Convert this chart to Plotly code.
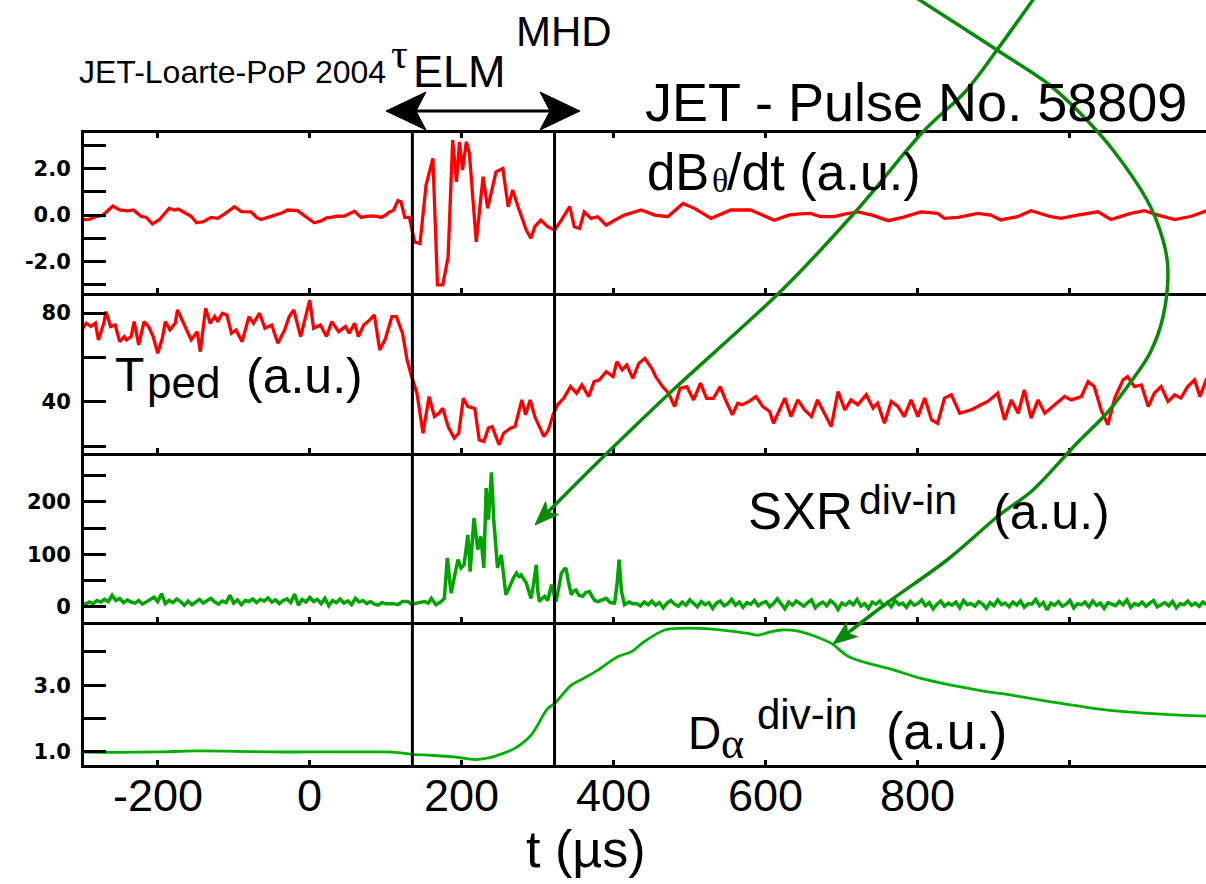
import numpy as np
import plotly.graph_objects as go
from plotly.subplots import make_subplots

# ---------------- data ----------------
db_t = [-300,-290,-280,-272,-259,-250,-240,-232,-222,-215,-207,-198,-185,-178,-173,-165,-156,-149,-140,-130,
        -121,-112,-99,-90,-80,-77,-70,-64,-55,-45,-36,-29,-16,-8,0,6,15,22,28,36,46,52,59,64,68,75,81,88,94,100,
        105,110,116,120,125,131,138,145,153,162,168,175,182,188,193,197,201,206,210,219,228,234,245,254,261,267,
        274,285,291,296,304,313,322,331,342,348,355,361,370,379,390,401,414,436,454,471,491,506,528,554,580,611,
        616,630,645,659,672,690,705,721,740,761,780,804,826,835,853,879,896,909,931,949,975,988,1010,1037,1054,
        1080,1098,1116,1138,1160,1180]
db_v = [-0.2,-0.18,-0.05,0.0,0.39,0.22,0.18,0.22,-0.05,-0.1,-0.38,-0.2,0.29,0.22,0.26,0.1,-0.05,-0.33,-0.28,-0.1,
        -0.14,0.05,0.36,0.15,0.14,0.14,-0.1,-0.19,-0.1,0.0,0.1,0.22,0.19,0.0,-0.2,-0.33,-0.25,-0.12,-0.1,-0.05,-0.04,
        0.05,0.17,0.0,-0.1,-0.05,-0.03,-0.05,-0.1,0.0,0.14,0.2,0.62,0.57,-0.1,-0.1,-1.15,-1.22,1.29,2.44,-3.0,-3.0,
        -1.79,3.23,1.43,3.15,1.94,3.15,2.65,-1.15,1.65,0.29,1.86,2.0,0.36,1.08,0.36,-0.65,-1.0,-0.5,-0.22,-0.5,-0.65,
        -0.22,0.36,-0.5,-0.57,0.14,-0.14,-0.07,-0.43,-0.22,0.0,0.22,0.0,-0.07,0.5,0.29,-0.14,0.22,0.22,-0.22,
        -0.17,0.0,0.05,0.07,-0.07,-0.07,0.05,0.14,0.0,-0.24,-0.1,0.14,0.07,-0.14,-0.1,0.07,0.0,-0.21,-0.07,0.19,
        -0.07,-0.14,0.0,0.14,-0.19,0.07,0.19,0.0,-0.19,-0.05,0.19]

tped_t = [-300,-294,-288,-282,-278,-271,-268,-262,-256,-250,-244,-241,-235,-231,-225,-218,-212,-206,-200,-194,
          -190,-184,-177,-174,-166,-160,-156,-148,-144,-137,-131,-125,-121,-115,-109,-103,-97,-89,-80,-74,-66,
          -59,-50,-42,-33,-27,-21,-12,-6,0,5,14,22,29,38,47,52,59,64,71,79,85,92,99,108,114,122,128,134,141,149,
          157,164,170,175,182,190,196,202,208,217,223,229,235,240,249,255,264,270,279,284,290,296,302,308,314,
          320,326,334,343,351,358,367,374,381,390,399,404,411,417,425,433,441,451,455,464,472,480,487,496,505,
          514,522,531,540,546,556,563,569,578,587,596,605,610,616,625,633,642,651,660,668,677,686,695,704,712,
          721,732,741,747,756,765,774,782,791,800,809,818,826,835,844,855,870,883,892,905,914,923,932,940,949,
          958,967,980,993,1002,1015,1024,1032,1041,1050,1059,1070,1076,1085,1094,1103,1111,1120,1129,1138,1146,
          1155,1164,1171,1180]
tped_v = [72.4,75.4,73.9,75.4,67.9,75.4,80.6,73.9,74.6,67.1,69.4,67.9,69.4,76.1,65.6,76.1,73.9,69.4,61.9,68.6,
          76.1,72.4,75.4,81.4,75.4,70.9,67.9,71.6,62.6,82.1,75.4,78.4,76.1,79.9,79.1,70.9,72.4,67.1,78.4,75.4,79.9,
          73.1,74.6,66.4,72.4,78.4,81.4,69.4,76.9,85.8,73.1,74.6,69.4,76.1,71.6,73.9,70.9,75.4,69.4,74.6,76.9,79.1,
          63.4,67.9,78.4,78.4,70.9,58.9,51.4,43.9,25.9,42.4,33.4,34.9,37.1,28.9,23.7,25.9,41.6,37.9,37.1,22.9,22.2,
          28.2,28.9,20.7,25.9,28.2,28.9,40.9,34.2,40.9,33.4,28.9,24.4,27.4,34.2,38.7,41.6,46.9,43.9,47.6,42.4,49.1,
          49.9,53.6,51.4,58.1,54.4,56.6,50.6,57.4,59.6,54.4,51.4,46.9,43.9,37.9,46.1,46.9,40.9,48.4,41.6,41.6,46.9,
          41.6,34.2,39.4,38.7,40.2,42.4,37.9,35.7,30.4,34.9,41.7,33.4,40.9,36.4,33.4,40.9,34.9,28.9,44.6,36.4,40.9,
          38.7,43.2,37.2,39.4,30.4,40.2,37.9,33.4,40.9,33.4,41.7,31.9,30.4,41.7,43.2,34.9,36.4,38.7,40.2,43.9,31.9,
          40.9,34.9,45.4,32.7,40.9,34.9,38.7,42.4,40.9,42.4,49.1,46.9,36.4,29.7,41.7,49.9,51.4,46.9,47.6,37.9,43.9,
          46.9,40.2,43.2,41.7,46.9,49.9,42.4,50.6]

# SXR: quiet phase before the ELM (sampled every 5 us from -300)
sxr_pre_start, sxr_step = -300, 5
sxr_pre_v = [8,5,9,6,12,9,14,10,22,12,16,8,13,9,7,12,5,10,14,18,10,25,6,12,8,15,10,3,11,4,9,14,7,12,16,9,5,11,8,
             22,7,13,4,12,10,15,8,14,11,17,9,13,6,12,15,8,24,3,14,9,18,10,14,6,16,2,12,8,15,7,11,4,16,9,12,6,10,5,
             3,8,6]
# SXR: burst during the ELM
sxr_burst_t = [110,116,122,129,134,138,145,151,156,160,166,173,177,181,184,186,190,195,199,203,208,211,216,221,
               225,229,232,235,239,242,247,252,255,258,262,265,268,272,275,278,282,285,288,291,294,298,300,302,305,
               309,313,318,321,324,328,331,334,337,340,344,347,350,354,359,363,368,372,375,379,384,390,395,401,404,
               407,410,414,420,425]
sxr_burst_v = [6,4,10,10,5,6,8,10,7,16,4,10,16,93,50,26,55,90,74,80,137,67,169,109,134,74,226,166,256,166,74,99,60,
               23,35,45,55,64,58,61,50,45,30,16,40,80,30,10,15,20,12,42,25,10,40,64,70,74,50,23,30,32,22,20,27,29,18,
               12,10,12,16,8,7,40,90,30,4,9,6]
# SXR: quiet phase after the ELM (sampled every 5 us from 430)
sxr_post_start = 430
sxr_post_v = [6,2,9,4,11,3,8,-2,7,12,5,1,9,3,13,6,0,10,4,8,-3,7,11,2,6,14,3,9,-1,8,5,12,2,7,10,0,6,15,4,-4,9,3,11,
              6,1,8,13,-2,5,9,2,12,6,-5,7,3,10,4,14,1,6,-3,9,5,11,2,8,0,12,4,7,-1,10,3,6,13,2,8,-4,5,11,1,7,3,9,-2,
              12,4,6,1,10,5,-3,8,2,13,4,7,0,9,3,11,-1,6,5,14,2,8,-6,7,3,10,1,5,12,-2,6,4,9,0,11,3,7,-3,8,5,2,10,4,
              13,-1,6,3,9,1,7,12,0,5,8,2,10,-2,6,4,11,3,7,1,9,4]

da_t = [-300,-250,-200,-150,-100,-50,0,50,100,116,135,160,190,217,235,247,269,291,313,322,344,360,379,405,423,440,
        467,489,510,533,554,576,590,607,620,642,660,686,710,769,804,879,923,975,1033,1076,1120,1180]
da_v = [1.0,0.99,1.0,1.03,1.02,1.0,1.0,1.0,1.0,0.98,0.93,0.9,0.85,0.77,0.82,0.9,1.1,1.5,2.3,2.45,3.0,3.2,3.45,3.85,
        4.0,4.3,4.65,4.7,4.7,4.67,4.62,4.55,4.5,4.6,4.65,4.62,4.5,4.25,3.84,3.45,3.2,2.85,2.7,2.5,2.3,2.2,2.13,2.07]

elm_window = [135, 322]

x_ticks = [-200, 0, 200, 400, 600, 800, 1000]
x_ticktext = ["-200", "0", "200", "400", "600", "800", ""]

# ---------------- figure ----------------
W, H = 1206, 884
L, T, R, B = 84, 133, 1206, 765

def px(x):
    return (x - L) / (R - L)

def py(y):
    return (B - y) / (B - T)

fig = make_subplots(rows=4, cols=1, shared_xaxes=True, vertical_spacing=0,
                    row_heights=[160, 160, 169, 143])

red = "#ff0000"
green = "#00a400"
fig.add_trace(go.Scatter(x=db_t, y=db_v, mode="lines", line=dict(color=red, width=3.3)), row=1, col=1)
fig.add_trace(go.Scatter(x=tped_t, y=tped_v, mode="lines", line=dict(color=red, width=3.3)), row=2, col=1)

sxr_t = (list(np.arange(len(sxr_pre_v)) * sxr_step + sxr_pre_start) + sxr_burst_t +
         list(np.arange(len(sxr_post_v)) * sxr_step + sxr_post_start))
sxr_v = sxr_pre_v + sxr_burst_v + sxr_post_v
fig.add_trace(go.Scatter(x=sxr_t, y=sxr_v, mode="lines", line=dict(color=green, width=3.5)), row=3, col=1)
fig.add_trace(go.Scatter(x=da_t, y=da_v, mode="lines", line=dict(color="#00b000", width=2.8, shape="spline")),
              row=4, col=1)

xcommon = dict(range=[-297, 1179], showline=True, linecolor="black", linewidth=3,
               ticks="inside", ticklen=5, tickwidth=3, tickcolor="black", tickvals=x_ticks,
               showgrid=False, zeroline=False, showticklabels=False)
for r in range(1, 5):
    fig.update_xaxes(row=r, col=1, **xcommon)
fig.update_xaxes(row=1, col=1, mirror="allticks")

yfont = dict(family="DejaVu Sans", size=21, color="black", weight="bold")
ycommon = dict(showline=True, linecolor="black", linewidth=3, ticks="inside", ticklen=22, tickwidth=3,
               tickcolor="black", showgrid=False, zeroline=False, tickfont=yfont, ticklabelstandoff=6)
fig.update_yaxes(row=1, col=1, range=[-3.35, 3.53], tickvals=[-3, -2, -1, 0, 1, 2, 3],
                 ticktext=["", "-2.0", "", "0.0", "", "2.0", ""], **ycommon)
fig.update_yaxes(row=2, col=1, range=[17, 89], tickvals=[20, 40, 60, 80],
                 ticktext=["", "40", "", "80"], **ycommon)
fig.update_yaxes(row=3, col=1, range=[-29, 293], tickvals=[0, 50, 100, 150, 200, 250],
                 ticktext=["0", "", "100", "", "200", ""], **ycommon)
fig.update_yaxes(row=4, col=1, range=[0.61, 4.89], tickvals=[1, 2, 3, 4],
                 ticktext=["1.0", "", "3.0", ""], **ycommon)

shapes = []
for xv in elm_window:
    shapes.append(dict(type="line", xref="x", yref="paper", x0=xv, x1=xv, y0=0, y1=1,
                       line=dict(color="black", width=3), layer="above"))

def poly(pts):
    d = "M " + " L ".join(f"{px(x):.5f},{py(y):.5f}" for x, y in pts) + " Z"
    return d

def smooth(pts):
    P = [(px(x), py(y)) for x, y in pts]
    d = f"M {P[0][0]:.5f},{P[0][1]:.5f}"
    for i in range(len(P) - 1):
        p0 = P[i - 1] if i > 0 else P[i]
        p1, p2 = P[i], P[i + 1]
        p3 = P[i + 2] if i + 2 < len(P) else P[i + 1]
        c1 = (p1[0] + (p2[0] - p0[0]) / 6, p1[1] + (p2[1] - p0[1]) / 6)
        c2 = (p2[0] - (p3[0] - p1[0]) / 6, p2[1] - (p3[1] - p1[1]) / 6)
        d += f" C {c1[0]:.5f},{c1[1]:.5f} {c2[0]:.5f},{c2[1]:.5f} {p2[0]:.5f},{p2[1]:.5f}"
    return d

def head(tip, frm, length=24, half=10, notch=17):
    dx, dy = tip[0] - frm[0], tip[1] - frm[1]
    n = (dx * dx + dy * dy) ** 0.5
    ux, uy = dx / n, dy / n
    vx, vy = -uy, ux
    bx, by = tip[0] - ux * length, tip[1] - uy * length
    nx, ny = tip[0] - ux * notch, tip[1] - uy * notch
    return poly([tip, (bx + vx * half, by + vy * half), (nx, ny), (bx - vx * half, by - vy * half)])

# black double arrow (tau_ELM window)
shapes.append(dict(type="path", xref="paper", yref="paper", path=f"M {px(412):.5f},{py(111):.5f} L {px(552):.5f},{py(111):.5f}",
                   line=dict(color="black", width=3)))
shapes.append(dict(type="path", xref="paper", yref="paper", path=head((386, 111), (500, 111), 40, 19, 30),
                   fillcolor="black", line=dict(color="black", width=1)))
shapes.append(dict(type="path", xref="paper", yref="paper", path=head((580, 111), (450, 111), 40, 19, 30),
                   fillcolor="black", line=dict(color="black", width=1)))

# green overlay pointer curves
gcol = "#0a8a0a"
curveA = [(915, -3), (997, 50), (1047, 83), (1080, 113), (1113, 150), (1147, 200), (1163, 240), (1168, 273),
          (1163, 317), (1150, 353), (1130, 383), (1107, 413), (1080, 440), (1066, 455), (1033, 490), (997, 517),
          (947, 560), (887, 603), (840, 639)]
curveB = [(1035, -3), (997, 50), (965, 92), (920, 135), (857, 210), (780, 292), (673, 390), (600, 460), (542, 518)]
for c in (curveA, curveB):
    shapes.append(dict(type="path", xref="paper", yref="paper", path=smooth(c), line=dict(color=gcol, width=3.5),
                       layer="above"))
shapes.append(dict(type="path", xref="paper", yref="paper", path=head((833, 644), (887, 603), 24, 9, 18),
                   fillcolor=gcol, line=dict(color=gcol, width=1)))
shapes.append(dict(type="path", xref="paper", yref="paper", path=head((535, 525), (600, 460), 24, 9, 18),
                   fillcolor=gcol, line=dict(color=gcol, width=1)))

ann = []

def text(s, x, yc, size, family="Liberation Sans"):
    ann.append(dict(text=s, x=px(x), y=py(yc), xref="paper", yref="paper", xanchor="left", yanchor="middle",
                    showarrow=False, font=dict(family=family, size=size, color="black")))

# x tick labels placed on the data axis
for tv, tt in zip(x_ticks, x_ticktext):
    if tt:
        ann.append(dict(text=tt, x=tv, xref="x", y=py(795), yref="paper", xanchor="center", yanchor="middle",
                        showarrow=False, font=dict(family="Liberation Sans", size=45, color="black")))

text("JET-Loarte-PoP 2004", 77, 72, 32)
text("τ", 389, 54, 42, "Liberation Serif")
text("ELM", 411, 72, 45)
text("MHD", 514, 31, 42)
text("JET - Pulse No. 58809", 643, 102, 54)
text("dB", 645, 172, 51)
text("θ", 710, 181, 34, "Liberation Serif")
text("/dt (a.u.)", 725, 172, 52)
text("T", 113, 374, 48)
text("ped", 145, 382, 44)
text("(a.u.)", 244, 376, 50)
text("SXR", 746, 511, 51)
text("div-in", 857, 500, 41)
text("(a.u.)", 991, 512, 50)
text("D", 686, 733, 46)
text("α", 719, 743, 44, "Liberation Serif")
text("div-in", 755, 714, 42)
text("(a.u.)", 884, 731, 52)
text("t (µs)", 524, 849, 52)

fig.update_layout(width=W, height=H, margin=dict(l=L, r=W - R, t=T, b=H - B),
                  paper_bgcolor="white", plot_bgcolor="white", showlegend=False,
                  shapes=shapes, annotations=ann)

fig.write_html("out.html", config={"displayModeBar": False})
